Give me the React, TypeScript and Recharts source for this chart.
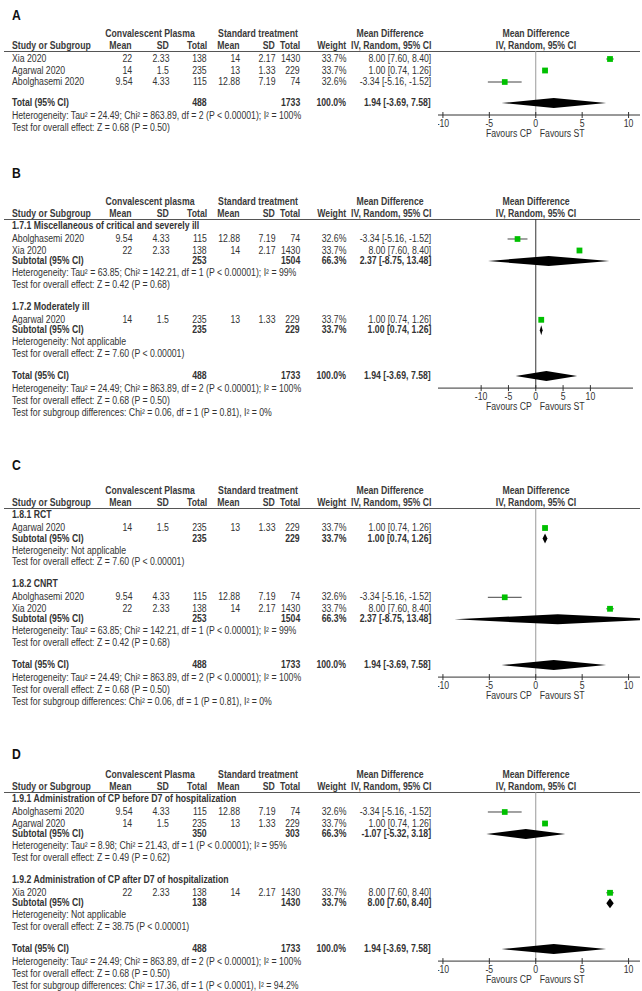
import React from "react";
import { ComposedChart, Scatter, Area, XAxis, YAxis, ReferenceLine } from "recharts";

const FONT = "Arial, 'Liberation Sans', Helvetica, sans-serif";
// the source picture is narrower than the font, so text is squeezed a bit
const SQUEEZE = 0.87;

// ---- study data (same three trials in every panel) ----
const studyNames = ["Xia 2020", "Agarwal 2020", "Abolghasemi 2020"];
const cpMean = [22, 14, 9.54];
const cpSD = [2.33, 1.5, 4.33];
const cpTotal = [138, 235, 115];
const stMean = [14, 13, 12.88];
const stSD = [2.17, 1.33, 7.19];
const stTotal = [1430, 229, 74];
const studyWeight = [33.7, 33.7, 32.6];
const studyMD = [8.0, 1.0, -3.34];
const studyLow = [7.6, 0.74, -5.16];
const studyHigh = [8.4, 1.26, -1.52];

// ---- pooled result ----
const totalCP = 488;
const totalST = 1733;
const totalMD = [1.94, -3.69, 7.58];
const totalNotes = [
  "Heterogeneity: Tau² = 24.49; Chi² = 863.89, df = 2 (P < 0.00001); I² = 100%",
  "Test for overall effect: Z = 0.68 (P = 0.50)",
];

const axisTicks = [-10, -5, 0, 5, 10];

interface Subgroup {
  title: string;
  studies: number[];
  cp: number;
  st: number;
  weight: number;
  md: number[];
  notes: string[];
}

const notesSevere = [
  "Heterogeneity: Tau² = 63.85; Chi² = 142.21, df = 1 (P < 0.00001); I² = 99%",
  "Test for overall effect: Z = 0.42 (P = 0.68)",
];
const notesSingleAgarwal = ["Heterogeneity: Not applicable", "Test for overall effect: Z = 7.60 (P < 0.00001)"];

const groupsB: Subgroup[] = [
  { title: "1.7.1 Miscellaneous of critical and severely ill", studies: [2, 0], cp: 253, st: 1504, weight: 66.3, md: [2.37, -8.75, 13.48], notes: notesSevere },
  { title: "1.7.2 Moderately ill", studies: [1], cp: 235, st: 229, weight: 33.7, md: [1.0, 0.74, 1.26], notes: notesSingleAgarwal },
];
const groupsC: Subgroup[] = [
  { title: "1.8.1 RCT", studies: [1], cp: 235, st: 229, weight: 33.7, md: [1.0, 0.74, 1.26], notes: notesSingleAgarwal },
  { title: "1.8.2 CNRT", studies: [2, 0], cp: 253, st: 1504, weight: 66.3, md: [2.37, -8.75, 13.48], notes: notesSevere },
];
const groupsD: Subgroup[] = [
  {
    title: "1.9.1 Administration of CP before D7 of hospitalization",
    studies: [2, 1], cp: 350, st: 303, weight: 66.3, md: [-1.07, -5.32, 3.18],
    notes: ["Heterogeneity: Tau² = 8.98; Chi² = 21.43, df = 1 (P < 0.00001); I² = 95%", "Test for overall effect: Z = 0.49 (P = 0.62)"],
  },
  {
    title: "1.9.2 Administration of CP after D7 of hospitalization",
    studies: [0], cp: 138, st: 1430, weight: 33.7, md: [8.0, 7.6, 8.4],
    notes: ["Heterogeneity: Not applicable", "Test for overall effect: Z = 38.75 (P < 0.00001)"],
  },
];

interface PanelDef {
  letter: string;
  cpLabel: string;
  studies: number[];
  groups: Subgroup[] | null;
  diff: string | null;
}

const panels: PanelDef[] = [
  { letter: "A", cpLabel: "Convalescent Plasma", studies: [0, 1, 2], groups: null, diff: null },
  { letter: "B", cpLabel: "Convalescent plasma", studies: [], groups: groupsB, diff: "Test for subgroup differences: Chi² = 0.06, df = 1 (P = 0.81), I² = 0%" },
  { letter: "C", cpLabel: "Convalescent Plasma", studies: [], groups: groupsC, diff: "Test for subgroup differences: Chi² = 0.06, df = 1 (P = 0.81), I² = 0%" },
  { letter: "D", cpLabel: "Convalescent Plasma", studies: [], groups: groupsD, diff: "Test for subgroup differences: Chi² = 17.36, df = 1 (P < 0.0001), I² = 94.2%" },
];

// ---- layout ----
const panelLayout = [
  { lineY: 51, letterY: 15, domain: [-10.53, 11.23], width: 202, zero: "#9a9a9a" },
  { lineY: 219, letterY: 173, domain: [-17.9, 17.8], width: 195, zero: "#333" },
  { lineY: 508, letterY: 465, domain: [-10.53, 11.23], width: 202, zero: "#9a9a9a" },
  { lineY: 792, letterY: 754, domain: [-10.53, 11.23], width: 202, zero: "#9a9a9a" },
];
const PLOT_LEFT = 438;
const COLS = { label: 12, cpMean: 132, cpSD: 169, cpTotal: 207, stMean: 240, stSD: 275, stTotal: 300, weight: 346, ci: 431 };
const GAP: Record<string, number> = {
  "start-heading": 7, "start-study": 8, "heading-study": 13, "study-study": 11.5, "study-subtotal": 10.5,
  "subtotal-note": 12, "note-note": 11.8, "note-heading": 22, "note-total": 22, "study-total": 21, "total-note": 13,
};

type Kind = "heading" | "study" | "subtotal" | "total" | "note";
interface Row { kind: Kind; text: string; study?: number; group?: Subgroup }

function buildRows(p: PanelDef): Row[] {
  const rows: Row[] = [];
  if (!p.groups) {
    p.studies.forEach((i) => rows.push({ kind: "study", text: studyNames[i], study: i }));
  } else {
    p.groups.forEach((g) => {
      rows.push({ kind: "heading", text: g.title });
      g.studies.forEach((i) => rows.push({ kind: "study", text: studyNames[i], study: i }));
      rows.push({ kind: "subtotal", text: "Subtotal (95% CI)", group: g });
      g.notes.forEach((n) => rows.push({ kind: "note", text: n }));
    });
  }
  rows.push({ kind: "total", text: "Total (95% CI)" });
  totalNotes.forEach((n) => rows.push({ kind: "note", text: n }));
  if (p.diff) rows.push({ kind: "note", text: p.diff });
  return rows;
}

function rowOffsets(rows: Row[]) {
  let prev = "start";
  let y = 0;
  return rows.map((r) => {
    y += GAP[`${prev}-${r.kind}`] ?? 12;
    prev = r.kind;
    return y;
  });
}

const ci = (m: number[]) => `${m[0].toFixed(2)} [${m[1].toFixed(2)}, ${m[2].toFixed(2)}]`;

function Txt({ x, y, children, anchor = "start", bold = false, size = 10, color = "#333" }: any) {
  const origin = anchor === "start" ? "0 50%" : anchor === "end" ? "100% 50%" : "50% 50%";
  const transform = anchor === "middle" ? `translate(-50%, -50%) scaleX(${SQUEEZE})` : `translateY(-50%) scaleX(${SQUEEZE})`;
  return (
    <div style={{ position: "absolute", left: x, top: y, width: 0, height: 0 }}>
      <span
        style={{
          position: "absolute",
          top: 0,
          left: anchor === "end" ? undefined : 0,
          right: anchor === "end" ? 0 : undefined,
          whiteSpace: "nowrap",
          lineHeight: 1,
          fontSize: size,
          fontWeight: bold ? 700 : 400,
          color,
          transform,
          transformOrigin: origin,
        }}
      >
        {children}
      </span>
    </div>
  );
}

function AxisTick(props: any) {
  const { x, y, payload } = props;
  return (
    <g>
      <line x1={x} x2={x} y1={y - 3} y2={y + 3} stroke="#333" />
      <text transform={`translate(${x},${y + 11.5}) scale(${SQUEEZE},1)`} textAnchor="middle" fontSize={10} fill="#333" fontFamily={FONT}>
        {payload.value}
      </text>
    </g>
  );
}

function FavoursLabel(props: any) {
  const vb = props.viewBox ?? {};
  const x = vb.x ?? 0;
  const yb = (vb.y ?? 0) + (vb.height ?? 0) + 21.5;
  return (
    <g fontSize={10} fill="#333" fontFamily={FONT}>
      <text transform={`translate(${x - 4},${yb}) scale(${SQUEEZE},1)`} textAnchor="end">Favours CP</text>
      <text transform={`translate(${x + 4},${yb}) scale(${SQUEEZE},1)`} textAnchor="start">Favours ST</text>
    </g>
  );
}

function Square(props: any) {
  const { cx, cy, payload } = props;
  const s = 5.8 * Math.sqrt(payload.w / 33.7);
  return <rect x={cx - s / 2} y={cy - s / 2} width={s} height={s} fill="#00c000" />;
}

const NoDot = () => <g />;

function ForestPlot({ rows, offsets, lay, plotH }: any) {
  const points: any[] = [];
  const diamonds: any[] = [];
  rows.forEach((r: Row, i: number) => {
    if (r.kind === "study") {
      const s = r.study as number;
      points.push({ x: studyMD[s], y: offsets[i], lo: studyLow[s], hi: studyHigh[s], w: studyWeight[s] });
    } else if (r.kind === "subtotal") {
      diamonds.push({ md: (r.group as Subgroup).md, y: offsets[i] });
    } else if (r.kind === "total") {
      diamonds.push({ md: totalMD, y: offsets[i] });
    }
  });
  return (
    <ComposedChart width={lay.width} height={plotH + 26} margin={{ top: 0, right: 0, bottom: 0, left: 0 }}>
      <XAxis
        type="number"
        dataKey="x"
        domain={lay.domain}
        allowDataOverflow
        ticks={axisTicks}
        interval={0}
        height={26}
        tickLine={false}
        tickSize={0}
        tickMargin={0}
        axisLine={{ stroke: "#333" }}
        tick={<AxisTick />}
      />
      <YAxis type="number" dataKey="y" domain={[0, plotH]} allowDataOverflow reversed hide />
      <ReferenceLine x={0} stroke={lay.zero} strokeWidth={1} label={FavoursLabel} zIndex={-50} />
      {diamonds.map((d, k) => (
        <Area
          key={`d${k}`}
          data={[
            { x: d.md[1], r: [d.y, d.y] },
            { x: d.md[0], r: [d.y - 5, d.y + 5] },
            { x: d.md[2], r: [d.y, d.y] },
          ]}
          dataKey="r"
          type="linear"
          stroke="none"
          fill="#000"
          fillOpacity={1}
          dot={false}
          activeDot={false}
          isAnimationActive={false}
        />
      ))}
      {points.map((p, k) => (
        <Scatter
          key={`ci${k}`}
          data={[{ x: p.lo, y: p.y }, { x: p.hi, y: p.y }]}
          line={{ stroke: "#444", strokeWidth: 1 }}
          shape={NoDot}
          isAnimationActive={false}
        />
      ))}
      <Scatter data={points} shape={Square} isAnimationActive={false} />
    </ComposedChart>
  );
}

function Panel({ panel, lay }: { panel: PanelDef; lay: any }) {
  const rows = buildRows(panel);
  const offsets = rowOffsets(rows);
  const totalIdx = rows.findIndex((r) => r.kind === "total");
  const plotH = offsets[totalIdx] + 12;
  const top = lay.lineY;
  const h1 = top - 17;
  const h2 = top - 5;
  const hc = "#3a3a3a";

  return (
    <>
      <Txt x={12} y={lay.letterY} bold size={14} color="#111">{panel.letter}</Txt>
      <Txt x={150} y={h1} anchor="middle" bold color={hc}>{panel.cpLabel}</Txt>
      <Txt x={258} y={h1} anchor="middle" bold color={hc}>Standard treatment</Txt>
      <Txt x={390} y={h1} anchor="middle" bold color={hc}>Mean Difference</Txt>
      <Txt x={536} y={h1} anchor="middle" bold color={hc}>Mean Difference</Txt>
      <Txt x={COLS.label} y={h2} bold color={hc}>Study or Subgroup</Txt>
      <Txt x={COLS.cpMean} y={h2} anchor="end" bold color={hc}>Mean</Txt>
      <Txt x={COLS.cpSD} y={h2} anchor="end" bold color={hc}>SD</Txt>
      <Txt x={COLS.cpTotal} y={h2} anchor="end" bold color={hc}>Total</Txt>
      <Txt x={COLS.stMean} y={h2} anchor="end" bold color={hc}>Mean</Txt>
      <Txt x={COLS.stSD} y={h2} anchor="end" bold color={hc}>SD</Txt>
      <Txt x={COLS.stTotal} y={h2} anchor="end" bold color={hc}>Total</Txt>
      <Txt x={COLS.weight} y={h2} anchor="end" bold color={hc}>Weight</Txt>
      <Txt x={COLS.ci} y={h2} anchor="end" bold color={hc}>IV, Random, 95% CI</Txt>
      <Txt x={536} y={h2} anchor="middle" bold color={hc}>IV, Random, 95% CI</Txt>
      <div style={{ position: "absolute", left: 4, top: top, width: 636, height: 1, background: "#555" }} />

      {rows.map((r, i) => {
        const y = top + offsets[i];
        if (r.kind === "heading") return <Txt key={i} x={COLS.label} y={y} bold>{r.text}</Txt>;
        if (r.kind === "note") return <Txt key={i} x={COLS.label} y={y}>{r.text}</Txt>;
        if (r.kind === "study") {
          const s = r.study as number;
          return (
            <React.Fragment key={i}>
              <Txt x={COLS.label} y={y}>{r.text}</Txt>
              <Txt x={COLS.cpMean} y={y} anchor="end">{cpMean[s]}</Txt>
              <Txt x={COLS.cpSD} y={y} anchor="end">{cpSD[s]}</Txt>
              <Txt x={COLS.cpTotal} y={y} anchor="end">{cpTotal[s]}</Txt>
              <Txt x={COLS.stMean} y={y} anchor="end">{stMean[s]}</Txt>
              <Txt x={COLS.stSD} y={y} anchor="end">{stSD[s]}</Txt>
              <Txt x={COLS.stTotal} y={y} anchor="end">{stTotal[s]}</Txt>
              <Txt x={COLS.weight} y={y} anchor="end">{studyWeight[s].toFixed(1)}%</Txt>
              <Txt x={COLS.ci} y={y} anchor="end">{ci([studyMD[s], studyLow[s], studyHigh[s]])}</Txt>
            </React.Fragment>
          );
        }
        const g = r.group;
        const cp = g ? g.cp : totalCP;
        const st = g ? g.st : totalST;
        const w = g ? g.weight : 100;
        const m = g ? g.md : totalMD;
        return (
          <React.Fragment key={i}>
            <Txt x={COLS.label} y={y} bold>{r.text}</Txt>
            <Txt x={COLS.cpTotal} y={y} anchor="end" bold>{cp}</Txt>
            <Txt x={COLS.stTotal} y={y} anchor="end" bold>{st}</Txt>
            <Txt x={COLS.weight} y={y} anchor="end" bold>{w.toFixed(1)}%</Txt>
            <Txt x={COLS.ci} y={y} anchor="end" bold>{ci(m)}</Txt>
          </React.Fragment>
        );
      })}

      <div style={{ position: "absolute", left: PLOT_LEFT, top: top }}>
        <ForestPlot rows={rows} offsets={offsets} lay={lay} plotH={plotH} />
      </div>
    </>
  );
}

export default function App() {
  return (
    <div style={{ position: "absolute", left: 0, top: 0, width: 642, height: 991, background: "#fff", fontFamily: FONT, overflow: "hidden" }}>
      {panels.map((p, i) => (
        <Panel key={p.letter} panel={p} lay={panelLayout[i]} />
      ))}
    </div>
  );
}
